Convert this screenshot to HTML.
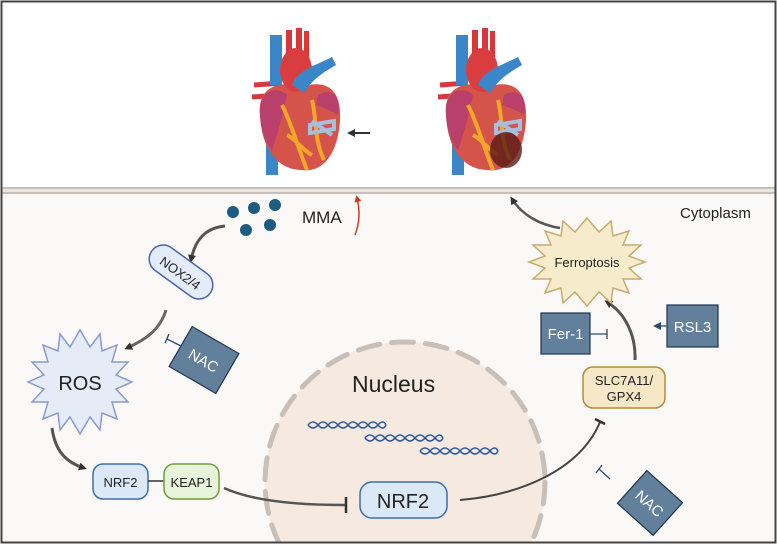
<!DOCTYPE html>
<html><head><meta charset="utf-8"><style>
html,body{margin:0;padding:0;background:#fff;width:777px;height:545px;overflow:hidden;}
svg{display:block;font-family:"Liberation Sans",sans-serif;}
</style></head><body>
<svg width="777" height="545" viewBox="0 0 777 545" xmlns="http://www.w3.org/2000/svg">
<defs>
<clipPath id="clip"><rect x="0" y="0" width="777" height="543"/></clipPath>
<marker id="ah" markerWidth="8" markerHeight="8" refX="5" refY="4" orient="auto" markerUnits="userSpaceOnUse"><path d="M0,0 L8,4 L0,8 z" fill="#333"/></marker>
<marker id="ahb" markerWidth="8" markerHeight="8" refX="5" refY="4" orient="auto" markerUnits="userSpaceOnUse"><path d="M0,0 L8,4 L0,8 z" fill="#2e4a6e"/></marker>
<marker id="ahr" markerWidth="7" markerHeight="7" refX="4" refY="3.5" orient="auto" markerUnits="userSpaceOnUse"><path d="M0,0 L7,3.5 L0,7 z" fill="#d03a2a"/></marker>
<g id="heart">
 <path d="M14,110 L14,150 L26,150 L26,110 z" fill="#3b86c8"/>
 <path d="M2,60 L30,58 M0,72 L28,70" stroke="#d8383c" stroke-width="5"/>
 <path d="M18,10 L30,10 L30,60 L18,60z" fill="#3b86c8"/>
 <path d="M34,5 l6,0 l0,30 l-6,0z M44,3 l6,0 l0,30 l-6,0z M52,6 l5,0 l0,30 l-5,0z" fill="#d8383c"/>
 <path d="M8,90 C5,60 30,55 50,62 C70,55 90,60 88,95 C86,130 70,148 50,145 C30,145 10,130 8,90z" fill="#d4534b"/>
 <path d="M8,90 C6,65 25,60 35,70 C30,95 25,110 20,125 C12,115 9,105 8,90z" fill="#b8406a"/>
 <path d="M66,70 C80,62 90,72 86,90 C78,85 70,82 64,80z" fill="#b8406a"/>
 <ellipse cx="44" cy="45" rx="16" ry="22" fill="#da3d40"/>
 <path d="M40,60 C45,45 65,40 80,32 L84,40 C70,48 60,55 52,68z" fill="#3b86c8"/>
 <path d="M30,80 C40,100 45,120 55,145 M60,75 C65,95 62,115 72,135 M35,110 C45,115 50,125 60,130" stroke="#f2a72a" stroke-width="4" fill="none"/>
 <path d="M58,100 L82,96 L82,104 L58,108z M60,96 L80,110" stroke="#a9bedb" stroke-width="4" fill="none"/>
</g>
</defs>
<rect x="0" y="0" width="777" height="545" fill="#fff"/>
<rect x="2" y="194" width="773" height="349" fill="#faf9f7"/>
<line x1="2" y1="188" x2="775" y2="188" stroke="#c8bfb8" stroke-width="2"/>
<line x1="2" y1="193" x2="775" y2="193" stroke="#c8bfb8" stroke-width="2"/>
<rect x="2" y="189" width="773" height="3" fill="#ece6e0"/>

<use href="#heart" x="252" y="25"/>
<use href="#heart" x="438" y="25"/>
<ellipse cx="506" cy="150" rx="16" ry="18" fill="#5a1a14" opacity="0.8"/>
<line x1="370" y1="133" x2="350" y2="133" stroke="#333" stroke-width="2" marker-end="url(#ah)"/>

<g clip-path="url(#clip)">
<circle cx="405" cy="482" r="140" fill="#f5e9e0"/>
<circle cx="405" cy="482" r="140" fill="none" stroke="#c9bfb9" stroke-width="5" stroke-dasharray="22,12" stroke-linecap="round"/>
</g>
<text x="352" y="392" font-size="23" fill="#222">Nucleus</text>
<g stroke="#2d5a9a" stroke-width="1.5" fill="none">
<path d="M308,425 q5,-6 10,0 t10,0 t10,0 t10,0 t10,0 t10,0 t10,0 t8,0"/>
<path d="M308,425 q5,6 10,0 t10,0 t10,0 t10,0 t10,0 t10,0 t10,0 t8,0"/>
<path d="M365,438 q5,-6 10,0 t10,0 t10,0 t10,0 t10,0 t10,0 t10,0 t8,0"/>
<path d="M365,438 q5,6 10,0 t10,0 t10,0 t10,0 t10,0 t10,0 t10,0 t8,0"/>
<path d="M420,451 q5,-6 10,0 t10,0 t10,0 t10,0 t10,0 t10,0 t10,0 t8,0"/>
<path d="M420,451 q5,6 10,0 t10,0 t10,0 t10,0 t10,0 t10,0 t10,0 t8,0"/>
</g>

<g fill="#1d5b80"><circle cx="233" cy="212" r="6"/><circle cx="254" cy="208" r="6"/><circle cx="275" cy="205" r="6"/><circle cx="246" cy="230" r="6"/><circle cx="270" cy="225" r="6"/></g>
<text x="302" y="223" font-size="17" fill="#222">MMA</text>
<path d="M355,235 C360,222 360,210 357,198" stroke="#d03a2a" stroke-width="1.5" fill="none" marker-end="url(#ahr)"/>

<path d="M225,226 C205,228 195,240 191,260" stroke="#555" stroke-width="3" fill="none" marker-end="url(#ah)"/>
<g transform="translate(181,272) rotate(36)">
<rect x="-36" y="-14" width="72" height="28" rx="14" fill="#e4ebfa" stroke="#4a62b0" stroke-width="1.5"/>
<text x="0" y="6" font-size="13" text-anchor="middle" fill="#222">NOX2/4</text></g>
<path d="M166,310 C160,330 145,340 127,348" stroke="#666" stroke-width="3" fill="none" marker-end="url(#ah)"/>

<g transform="translate(80,382)">
<polygon fill="#e5ecf8" stroke="#8a9ad0" stroke-width="1.5" points="52,0 36,7 48,20 32,20 37,37 22,31 20,48 10,35 0,52 -10,35 -20,48 -22,31 -37,37 -32,20 -48,20 -36,7 -52,0 -36,-7 -48,-20 -32,-20 -37,-37 -22,-31 -20,-48 -10,-35 0,-52 10,-35 20,-48 22,-31 37,-37 32,-20 48,-20 36,-7"/>
<text x="0" y="8" font-size="20" text-anchor="middle" fill="#222">ROS</text></g>

<g transform="translate(204,360) rotate(30)">
<rect x="-27" y="-23" width="54" height="46" fill="#62809c" stroke="#1f3550" stroke-width="1.2"/>
<text x="0" y="6" font-size="15" text-anchor="middle" fill="#fff">NAC</text></g>
<line x1="181" y1="346" x2="167" y2="339" stroke="#2e4a6e" stroke-width="1.3"/>
<line x1="169" y1="334" x2="165" y2="343" stroke="#2e4a6e" stroke-width="1.3"/>

<path d="M52,428 C55,450 65,462 84,468" stroke="#555" stroke-width="3" fill="none" marker-end="url(#ah)"/>
<rect x="93" y="464" width="55" height="35" rx="10" fill="#dbe8f7" stroke="#3d6dae" stroke-width="1.5"/>
<text x="120.5" y="487" font-size="13" text-anchor="middle" fill="#222">NRF2</text>
<line x1="148" y1="481" x2="164" y2="481" stroke="#333" stroke-width="1.5"/>
<rect x="164" y="464" width="55" height="35" rx="10" fill="#e8f3dc" stroke="#6e9e3a" stroke-width="1.5"/>
<text x="191.5" y="487" font-size="13" text-anchor="middle" fill="#222">KEAP1</text>
<path d="M224,488 C250,500 290,505 345,505" stroke="#555" stroke-width="2.5" fill="none"/>
<line x1="346" y1="497" x2="346" y2="513" stroke="#333" stroke-width="2.5"/>

<rect x="360" y="482" width="87" height="36" rx="12" fill="#dbe8f7" stroke="#3d6dae" stroke-width="1.5"/>
<text x="403" y="508" font-size="20" text-anchor="middle" fill="#222">NRF2</text>
<path d="M460,500 C520,495 580,470 600,422" stroke="#444" stroke-width="2" fill="none"/>
<line x1="595" y1="419" x2="605" y2="424" stroke="#333" stroke-width="2.5"/>

<rect x="583" y="367" width="82" height="41" rx="10" fill="#f6e8c6" stroke="#b58a3c" stroke-width="1.5"/>
<text x="624" y="385" font-size="13" text-anchor="middle" fill="#222">SLC7A11/</text>
<text x="624" y="401" font-size="13" text-anchor="middle" fill="#222">GPX4</text>
<path d="M635,360 C636,335 625,313 607,302" stroke="#555" stroke-width="3" fill="none" marker-end="url(#ah)"/>

<g transform="translate(587,262)">
<polygon fill="#f6ebca" stroke="#c7ab6f" stroke-width="1.5" points="58,0 42,6 54,17 36,17 42,31 26,26 24,41 12,30 0,44 -12,30 -24,41 -26,26 -42,31 -36,17 -54,17 -42,6 -58,0 -42,-6 -54,-17 -36,-17 -42,-31 -26,-26 -24,-41 -12,-30 0,-44 12,-30 24,-41 26,-26 42,-31 36,-17 54,-17 42,-6"/>
<text x="0" y="5" font-size="13" text-anchor="middle" fill="#222">Ferroptosis</text></g>
<path d="M560,228 C540,225 522,215 512,199" stroke="#555" stroke-width="2.5" fill="none" marker-end="url(#ah)"/>

<rect x="541" y="313" width="49" height="41" fill="#62809c" stroke="#1f3550" stroke-width="1.2"/>
<text x="565.5" y="339" font-size="15" text-anchor="middle" fill="#fff">Fer-1</text>
<line x1="590" y1="334" x2="607" y2="334" stroke="#2e4a6e" stroke-width="1.3"/>
<line x1="607" y1="329" x2="607" y2="339" stroke="#2e4a6e" stroke-width="1.3"/>
<rect x="667" y="305" width="51" height="42" fill="#62809c" stroke="#1f3550" stroke-width="1.2"/>
<text x="692.5" y="332" font-size="15" text-anchor="middle" fill="#fff">RSL3</text>
<line x1="667" y1="326" x2="656" y2="326" stroke="#2e4a6e" stroke-width="1.3" marker-end="url(#ahb)"/>

<g transform="translate(650,503) rotate(42)">
<rect x="-24" y="-22" width="48" height="44" fill="#62809c" stroke="#1f3550" stroke-width="1.2"/>
<text x="0" y="6" font-size="15" text-anchor="middle" fill="#fff">NAC</text></g>
<line x1="610" y1="479" x2="599" y2="469" stroke="#2e4a6e" stroke-width="1.3"/>
<line x1="596" y1="473" x2="602" y2="465" stroke="#2e4a6e" stroke-width="1.3"/>

<text x="680" y="218" font-size="15" fill="#222">Cytoplasm</text>
<rect x="1.5" y="1.5" width="774" height="541" fill="none" stroke="#444" stroke-width="2"/>
</svg>
</body></html>
